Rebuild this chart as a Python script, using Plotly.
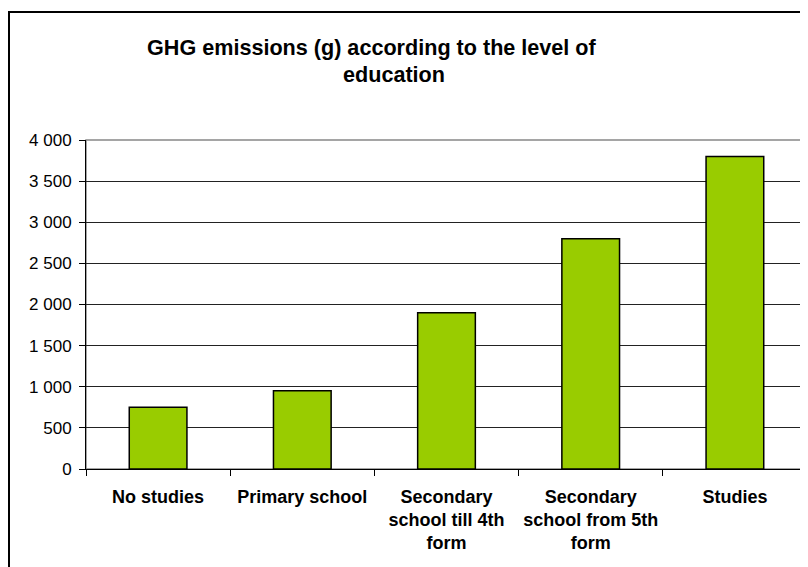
import plotly.graph_objects as go

categories = [
    'No studies',
    'Primary school',
    'Secondary<br>school till 4th<br>form',
    'Secondary<br>school from 5th<br>form',
    'Studies',
]
emissions = [750, 950, 1900, 2800, 3800]
title_lines = ['GHG emissions (g) according to the level of', 'education']

FONT = 'Liberation Sans, Arial, sans-serif'

fig = go.Figure(
    go.Bar(
        x = categories,
        y = emissions,
        marker = dict(
            color = '#99CC00',
            line = dict(color = 'black', width = 1.5)
        ),
        hovertemplate = '%{x}<br>%{y}<extra></extra>'
    )
)

# page has an 8px body margin, so the figure is a bit smaller than the window
fig.update_layout(
    width = 800,
    height = 559,
    plot_bgcolor = 'white',
    paper_bgcolor = 'white',
    showlegend = False,
    bargap = 0.6,
    separators = '. ',
    font = dict(family = FONT, size = 18, color = 'black'),
    margin = dict(l = 78, r = 1, t = 132, b = 98),
    xaxis = dict(
        showline = True,
        linecolor = 'black',
        linewidth = 1,
        ticks = 'outside',
        tickson = 'boundaries',
        ticklen = 6,
        tickcolor = 'black',
        ticklabelstandoff = 11,
        tickfont = dict(family = FONT, size = 18, weight = 'bold'),
        showgrid = False,
        fixedrange = True,
    ),
    yaxis = dict(
        range = [0, 4000],
        dtick = 500,
        tickformat = ',d',
        showline = True,
        linecolor = 'black',
        linewidth = 1,
        ticks = 'outside',
        ticklen = 6,
        tickcolor = 'black',
        ticklabelstandoff = 4,
        showgrid = True,
        gridcolor = '#222222',
        gridwidth = 1,
        zeroline = False,
        tickfont = dict(family = FONT, size = 17),
        fixedrange = True,
    ),
    shapes = [
        # plot area border (grey top/right edges)
        dict(type = 'rect', xref = 'paper', yref = 'paper', x0 = 0, x1 = 1, y0 = 0, y1 = 1,
             line = dict(color = '#888888', width = 1.5), layer = 'below'),
        # outer chart frame
        dict(type = 'rect', xref = 'paper', yref = 'paper',
             x0 = (9 - 86) / 721, x1 = 1.1, y0 = (469 - 600) / 329, y1 = (469 - 12) / 329,
             line = dict(color = 'black', width = 2)),
    ],
    annotations = [
        dict(text = '<b>%s</b>' % title_lines[0], xref = 'paper', yref = 'paper',
             x = (372 - 86) / 721, y = (469 - 47) / 329, xanchor = 'center', yanchor = 'middle',
             showarrow = False, font = dict(family = FONT, size = 21.6, color = 'black')),
        dict(text = '<b>%s</b>' % title_lines[1], xref = 'paper', yref = 'paper',
             x = (394 - 86) / 721, y = (469 - 75) / 329, xanchor = 'center', yanchor = 'middle',
             showarrow = False, font = dict(family = FONT, size = 21.6, color = 'black')),
    ],
)

fig.write_html('out.html', config = dict(displayModeBar = False))
